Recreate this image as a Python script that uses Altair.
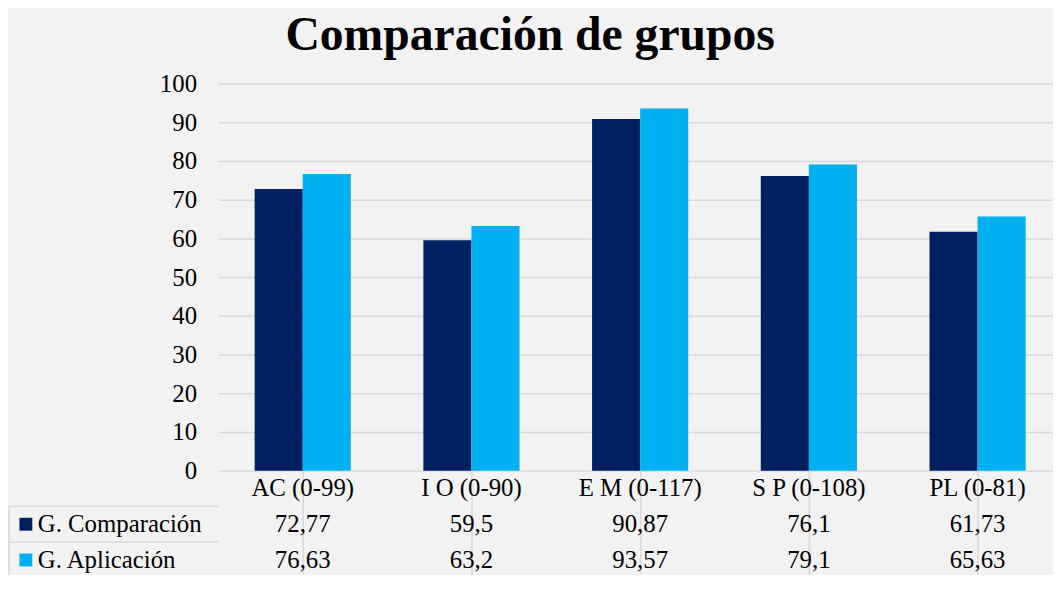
import altair as alt
import pandas as pd

categories = ["AC (0-99)", "I O (0-90)", "E M (0-117)", "S P (0-108)", "PL (0-81)"]
series = ["G. Comparación", "G. Aplicación"]
comparacion = [72.77, 59.5, 90.87, 76.1, 61.73]
aplicacion = [76.63, 63.2, 93.57, 79.1, 65.63]
colors = ["#002060", "#00B0F0"]
y_ticks = list(range(0, 101, 10))

FONT = "'Liberation Serif', 'Times New Roman', Times, serif"
GRID = "#D9D9D9"
TXT = "#000000"
W = 850
H = 390
ROW_H = 36

rows = []
for s, vals in zip(series, [comparacion, aplicacion]):
    for c, v in zip(categories, vals):
        rows.append({"cat": c, "series": s, "value": v,
                     "label": f"{v:g}".replace(".", ",")})
bars_df = pd.DataFrame(rows)

row_domain = ["header"] + series
header_df = pd.DataFrame({"cat": categories, "row": "header", "label": categories})
body_df = bars_df.assign(row=bars_df["series"])[["cat", "row", "label"]]
table_df = pd.concat([header_df, body_df], ignore_index=True)
legend_df = pd.DataFrame({"row": series})

color_scale = alt.Scale(domain=series, range=colors)

bars = alt.Chart(bars_df).mark_bar().encode(
    x=alt.X("cat:N", sort=categories,
            scale=alt.Scale(paddingInner=0.43, paddingOuter=0.215), axis=None),
    xOffset=alt.XOffset("series:N", sort=series,
                        scale=alt.Scale(paddingInner=0, paddingOuter=0)),
    y=alt.Y("value:Q", scale=alt.Scale(domain=[0, 100], nice=False),
            axis=alt.Axis(values=y_ticks, title=None, grid=True, gridColor=GRID,
                          gridWidth=1.5, domain=False, ticks=False, tickSize=0,
                          labelPadding=22, labelFont=FONT, labelFontSize=25,
                          labelColor=TXT)),
    color=alt.Color("series:N", scale=color_scale, legend=None),
).properties(width=W, height=H)

x_tab = alt.X("cat:N", sort=categories,
              scale=alt.Scale(paddingInner=0, paddingOuter=0),
              axis=alt.Axis(grid=True, bandPosition=0, gridColor=GRID, gridWidth=1.5,
                            labels=False, ticks=False, domain=False, title=None))
y_scale = alt.Scale(domain=row_domain, paddingInner=0, paddingOuter=0)
y_tab = alt.Y("row:N", sort=row_domain, scale=y_scale,
              axis=alt.Axis(grid=True, bandPosition=0, gridColor=GRID, gridWidth=1.5,
                            labels=False, ticks=False, domain=False, title=None))

cells = alt.Chart(table_df).mark_text(font=FONT, fontSize=25, color=TXT).encode(
    x=x_tab, y=y_tab, text="label:N")

row_labels = alt.Chart(legend_df).mark_text(
    font=FONT, fontSize=25, color=TXT, align="left").encode(
    x=alt.value(-182), y=alt.Y("row:N", scale=y_scale, axis=None), text="row:N")

squares = alt.Chart(legend_df).mark_square(size=169, opacity=1).encode(
    x=alt.value(-194), y=alt.Y("row:N", scale=y_scale, axis=None),
    color=alt.Color("row:N", scale=color_scale, legend=None))

h_lines = alt.Chart(legend_df).mark_rule(color=GRID, strokeWidth=1.5).encode(
    y=alt.Y("row:N", scale=y_scale, bandPosition=0, axis=None),
    x=alt.value(-211), x2=alt.value(0))

v_line = alt.Chart(legend_df.iloc[:1]).mark_rule(color=GRID, strokeWidth=1.5).encode(
    y=alt.Y("row:N", scale=y_scale, bandPosition=0, axis=None),
    y2=alt.value(ROW_H * 3), x=alt.value(-211))

table = alt.layer(cells, h_lines, v_line, squares, row_labels).properties(
    width=W, height=ROW_H * 3)

chart = alt.vconcat(bars, table, spacing=0, bounds="flush").properties(
    title=alt.Title("Comparación de grupos", font=FONT, fontSize=48,
                    fontWeight="bold", color=TXT, anchor="middle", offset=12, dx=-5),
    padding={"left": 0, "top": 2, "right": -9, "bottom": -6},
    background="#F2F2F2",
).configure_view(stroke=None)

chart.save("out.html", embed_options={"renderer": "svg", "actions": False})
